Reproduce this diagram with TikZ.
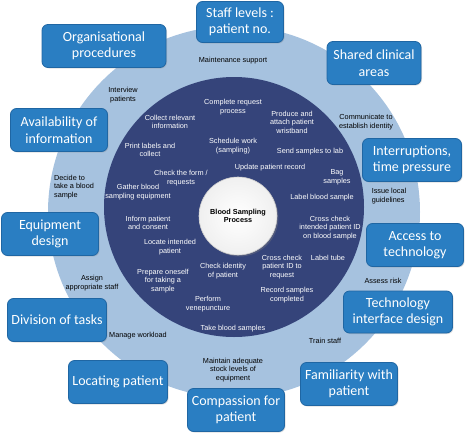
\documentclass[tikz,border=0pt]{standalone}
\usepackage{fontspec}
\setmainfont{Liberation Sans}
\newfontfamily\boxfont{Carlito}
\usetikzlibrary{shadows}
\definecolor{ringblue}{HTML}{A6C2DF}
\definecolor{navy}{HTML}{35447A}
\definecolor{boxblue}{HTML}{2A7EC2}
\definecolor{boxedge}{HTML}{1F66A3}

\begin{document}
\begin{tikzpicture}[x=1pt,y=-1pt,
    factor/.style={draw=boxedge,line width=0.8pt,fill=boxblue,rounded corners=6pt,
        text=white,align=center,font=\boxfont\fontsize{14}{16.5}\selectfont,
        minimum width=97pt,minimum height=43pt,inner sep=2pt,
        drop shadow={opacity=0.25,shadow xshift=1pt,shadow yshift=-1pt}},
    outertask/.style={align=center,inner sep=0pt,font=\fontsize{7.3}{8.6}\selectfont},
    innertask/.style={outertask,text=white}]
                \useasboundingbox (0,0) rectangle (466,434);
                \fill[ringblue] (234,212) circle[radius=186pt];
                \fill[navy] (234,207) circle[radius=130pt];
                \node[circle,draw=gray!40,line width=0.6pt,inner color=white,outer color=gray!12,
                    minimum size=78pt,align=center,inner sep=0pt,
                    font=\bfseries\fontsize{7.3}{8.6}\selectfont,
                    drop shadow={opacity=0.35,shadow xshift=1.5pt,shadow yshift=-1.5pt}]
                    (hub) at (238,216) {Blood Sampling\\Process};
                % ring of white tasks
                \node[innertask] (complete) at (233,107) {Complete request\\process};
                \node[innertask] (produce) at (292,122) {Produce and\\attach patient\\wristband};
                \node[innertask] (collect) at (170,122) {Collect relevant\\information};
                \node[innertask] (print) at (150,150) {Print labels and\\collect};
                \node[innertask] (schedule) at (233,146) {Schedule work\\(sampling)};
                \node[innertask] (send) at (310,152) {Send samples to lab};
                \node[innertask] (update) at (270,168) {Update patient record};
                \node[innertask] (form) at (181,178) {Check the form /\\requests};
                \node[innertask] (bag) at (337,177) {Bag\\samples};
                \node[innertask] (gather) at (138,192) {Gather blood\\sampling equipment};
                \node[innertask] (label) at (322,198) {Label blood sample};
                \node[innertask] (inform) at (148,223) {Inform patient\\and consent};
                \node[innertask] (crossid) at (330,228) {Cross check\\intended patient ID\\on blood sample};
                \node[innertask] (locate) at (170,247) {Locate intended\\patient};
                \node[innertask] (tube) at (328,258) {Label tube};
                \node[innertask] (crossreq) at (282,267) {Cross check\\patient ID to\\request};
                \node[innertask] (identity) at (223,271) {Check identity\\of patient};
                \node[innertask] (prepare) at (163,281) {Prepare oneself\\for taking a\\sample};
                \node[innertask] (record) at (287,295) {Record samples\\completed};
                \node[innertask] (perform) at (208,304) {Perform\\venepuncture};
                \node[innertask] (take) at (233,329) {Take blood samples};
                % ring of black tasks
                \node[outertask] (maintain) at (233,61) {Maintenance support};
                \node[outertask] (interview) at (123,95) {Interview\\patients};
                \node[outertask] (communicate) at (366,122) {Communicate to\\establish identity};
                \node[outertask,align=left] (decide) at (74,187) {Decide to\\take a blood\\sample};
                \node[outertask,align=left] (issue) at (389,196) {Issue local\\guidelines};
                \node[outertask] (assign) at (92,283) {Assign\\appropriate staff};
                \node[outertask] (assess) at (383,281) {Assess risk};
                \node[outertask] (manage) at (138,336) {Manage workload};
                \node[outertask] (train) at (325,341) {Train staff};
                \node[outertask] (stock) at (233,370) {Maintain adequate\\stock levels of\\equipment};
                % factors
                \node[factor,minimum width=87pt,minimum height=41pt] (staff) at (240,22) {Staff levels :\\patient no.};
                \node[factor,minimum width=124pt] (organisation) at (104,46) {Organisational\\procedures};
                \node[factor,minimum width=94pt] (shared) at (374,63) {Shared clinical\\areas};
                \node[factor] (availability) at (59,130) {Availability of\\information};
                \node[factor,minimum width=99pt] (interruptions) at (412,160) {Interruptions,\\time pressure};
                \node[factor] (equipment) at (50,234) {Equipment\\design};
                \node[factor] (access) at (415,245) {Access to\\technology};
                \node[factor,minimum width=109pt,minimum height=42pt] (interface) at (398,312) {Technology\\interface design};
                \node[factor,minimum width=99pt] (division) at (57,320) {Division of tasks};
                \node[factor,minimum width=99pt] (locating) at (118,382) {Locating patient};
                \node[factor] (compassion) at (236,410) {Compassion for\\patient};
                \node[factor] (familiarity) at (349,384) {Familiarity with\\patient};
\end{tikzpicture}
\end{document}
